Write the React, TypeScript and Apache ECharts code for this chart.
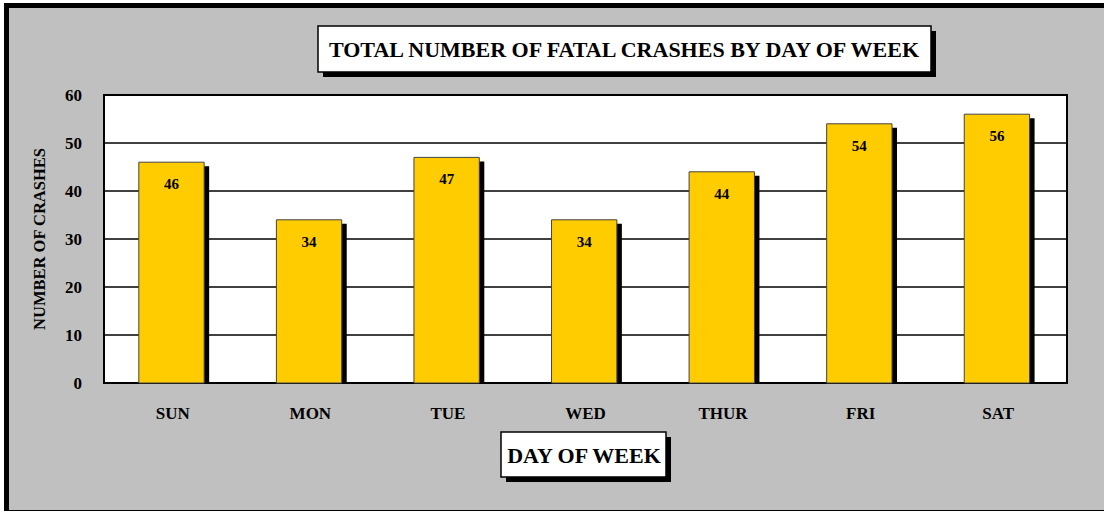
import React, { useEffect, useRef } from "react";
import * as echarts from "echarts";

const days = ["SUN", "MON", "TUE", "WED", "THUR", "FRI", "SAT"];
const crashes = [46, 34, 47, 34, 44, 54, 56];
const yTicks = { min: 0, max: 60, interval: 10 };
const titleText = "TOTAL NUMBER OF FATAL CRASHES BY DAY OF WEEK";
const xName = "DAY OF WEEK";
const yName = "NUMBER OF CRASHES";

const FONT = '"Liberation Serif", "Times New Roman", serif';

export default function App() {
  const ref = useRef<HTMLDivElement>(null);
  useEffect(() => {
    if (!ref.current) return;
    const chart = echarts.init(ref.current, undefined, { renderer: "svg" });
    chart.setOption({
      animation: false,
      backgroundColor: "#ffffff",
      graphic: [
        { type: "rect", z: -10, shape: { x: 4, y: 3, width: 1100, height: 508 }, style: { fill: "#000" } },
        { type: "rect", z: -9, shape: { x: 9, y: 8, width: 1095, height: 502 }, style: { fill: "#C0C0C0" } },
        // title box
        { type: "rect", z: 5, shape: { x: 323, y: 31, width: 613, height: 46 }, style: { fill: "#000" } },
        { type: "rect", z: 6, shape: { x: 318, y: 26, width: 613, height: 46 }, style: { fill: "#fff", stroke: "#000", lineWidth: 1.5 } },
        {
          type: "text", z: 7, x: 624, y: 49,
          style: { text: titleText, align: "center", verticalAlign: "middle", font: `bold 22px ${FONT}`, fill: "#000" },
        },
        // x axis name box
        { type: "rect", z: 5, shape: { x: 506, y: 437, width: 165, height: 45 }, style: { fill: "#000" } },
        { type: "rect", z: 6, shape: { x: 501, y: 432, width: 165, height: 45 }, style: { fill: "#fff", stroke: "#000", lineWidth: 1.5 } },
        {
          type: "text", z: 7, x: 584, y: 455,
          style: { text: xName, align: "center", verticalAlign: "middle", font: `bold 22px ${FONT}`, fill: "#000" },
        },
      ],
      grid: {
        left: 104, top: 95, width: 963, height: 288,
        show: true, backgroundColor: "#fff", borderColor: "#000", borderWidth: 2,
      },
      xAxis: {
        type: "category",
        data: days,
        axisLine: { show: false },
        axisTick: { show: false },
        axisLabel: { margin: 22, fontFamily: FONT, fontWeight: "bold", fontSize: 17, color: "#000" },
      },
      yAxis: {
        type: "value",
        min: yTicks.min, max: yTicks.max, interval: yTicks.interval,
        name: yName,
        nameLocation: "middle",
        nameGap: 56,
        nameRotate: 90,
        nameTextStyle: { fontFamily: FONT, fontWeight: "bold", fontSize: 16.5, color: "#000" },
        axisLine: { show: false },
        axisTick: { show: false },
        axisLabel: { margin: 22, fontFamily: FONT, fontWeight: "bold", fontSize: 17, color: "#000" },
        splitLine: { lineStyle: { color: "#000", width: 1.5 } },
      },
      series: [
        {
          type: "custom",
          data: crashes.map((v, i) => [i, v]),
          renderItem: (params: any, api: any) => {
            const v = api.value(1);
            const top = api.coord([api.value(0), v]);
            const base = api.coord([api.value(0), 0]);
            const bw = api.size([1, 0])[0] * 0.475;
            const x = top[0] - 1.3 - bw / 2;
            const h = base[1] - top[1];
            return {
              type: "group",
              children: [
                { type: "rect", shape: { x: x + 5, y: top[1] + 4, width: bw, height: h - 4 }, style: { fill: "#000" } },
                { type: "rect", shape: { x, y: top[1], width: bw, height: h }, style: { fill: "#FFCC00", stroke: "#444", lineWidth: 1 } },
                {
                  type: "text",
                  style: { text: String(v), x: x + bw / 2, y: top[1] + 22, align: "center", verticalAlign: "middle", font: `bold 15px ${FONT}`, fill: "#000" },
                },
              ],
            };
          },
        },
      ],
    });
    return () => chart.dispose();
  }, []);
  return <div ref={ref} style={{ position: "fixed", left: 0, top: 0, width: 1104, height: 512 }} />;
}
